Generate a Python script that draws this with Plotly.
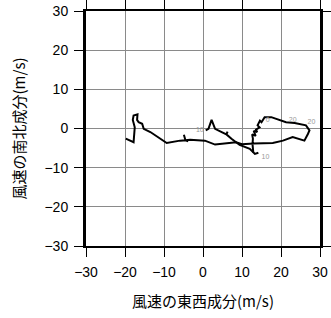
import plotly.graph_objects as go

# Main hodograph trace (u, v in m/s)
u_main = [-19.8, -17.8, -17.5, -18.0, -17.8, -16.8, -16.9, -16.5, -15.6, -15.2, -13.5, -9.3,
          -5.9, -4.5, -4.9, -4.5, -3.8, -4.5, -3.3, 0.5, 3.1, 6.9, 8.5, 10.0, 13.0, 17.9,
          20.5, 23.0, 26.0, 26.9, 27.3, 26.4, 23.5, 21.3, 18.8, 17.5, 15.8, 15.0, 14.6,
          14.0, 14.5, 13.6, 13.9, 13.0, 13.5, 12.6, 12.8, 12.7, 12.9]
v_main = [-2.6, -3.5, 0.3, 2.2, 3.3, 3.6, 2.2, 1.6, 1.2, -0.1, -0.9, -3.7,
          -3.1, -3.0, -1.6, -3.0, -3.3, -3.0, -2.9, -3.1, -4.1, -3.7, -3.5, -4.0, -3.8, -3.7,
          -3.1, -2.2, -3.1, -1.4, -0.5, 0.8, 1.4, 1.6, 2.5, 2.9, 2.9, 1.6, 2.0,
          0.8, 0.3, -0.3, -0.9, -0.6, -1.9, -1.5, -2.6, -4.0, -6.2]

# Second branch
u_branch = [0.7, 1.4, 2.2, 3.1, 4.8, 6.0, 6.3, 6.0, 7.3, 9.4, 12.0, 13.3, 12.6, 13.3, 14.2]
v_branch = [-0.5, -0.1, 2.2, -0.1, -0.9, -1.5, -0.8, -1.5, -2.6, -4.2, -5.2, -6.5, -5.6, -6.5, -6.2]

# Height labels
lab_text = ["10", "0", "20", "20", "10"]
lab_u = [-0.8, 16.6, 23.0, 27.8, 16.0]
lab_v = [-0.4, 2.1, 2.1, 1.5, -7.3]

ticks = [-30, -20, -10, 0, 10, 20, 30]
tick_text = ["\u221230", "\u221220", "\u221210", "0", "10", "20", "30"]

fig = go.Figure()
fig.add_trace(go.Scatter(x=u_main, y=v_main, mode="lines",
                         line=dict(color="black", width=2), hoverinfo="skip"))
fig.add_trace(go.Scatter(x=u_branch, y=v_branch, mode="lines",
                         line=dict(color="black", width=2), hoverinfo="skip"))
fig.add_trace(go.Scatter(x=lab_u, y=lab_v, mode="text", text=lab_text,
                         textfont=dict(size=7, color="#999999", family="Liberation Sans"),
                         hoverinfo="skip"))

axis_common = dict(range=[-30, 30], tickvals=ticks, ticktext=tick_text,
                   showgrid=True, gridcolor="#8a8a8a", gridwidth=1, automargin=False,
                   zeroline=False, ticks="outside", ticklen=9, tickcolor="black",
                   tickwidth=1, mirror="allticks", showline=True, linecolor="black",
                   ticklabelstandoff=3,
                   tickfont=dict(size=14, color="black", family="Liberation Sans"))

fig.update_layout(
    width=331, height=318,
    margin=dict(l=86, r=11, t=11, b=72),
    paper_bgcolor="white", plot_bgcolor="white",
    showlegend=False,
    xaxis=dict(**axis_common, linewidth=1.5,
               title=dict(text="風速の東西成分(m/s)", standoff=18,
                          font=dict(size=15, color="black", family="Noto Sans CJK JP"))),
    yaxis=dict(**axis_common, linewidth=3,
               title=dict(text="風速の南北成分(m/s)", standoff=16,
                          font=dict(size=15, color="black", family="Noto Sans CJK JP"))),
)

fig.write_html("out.html")
